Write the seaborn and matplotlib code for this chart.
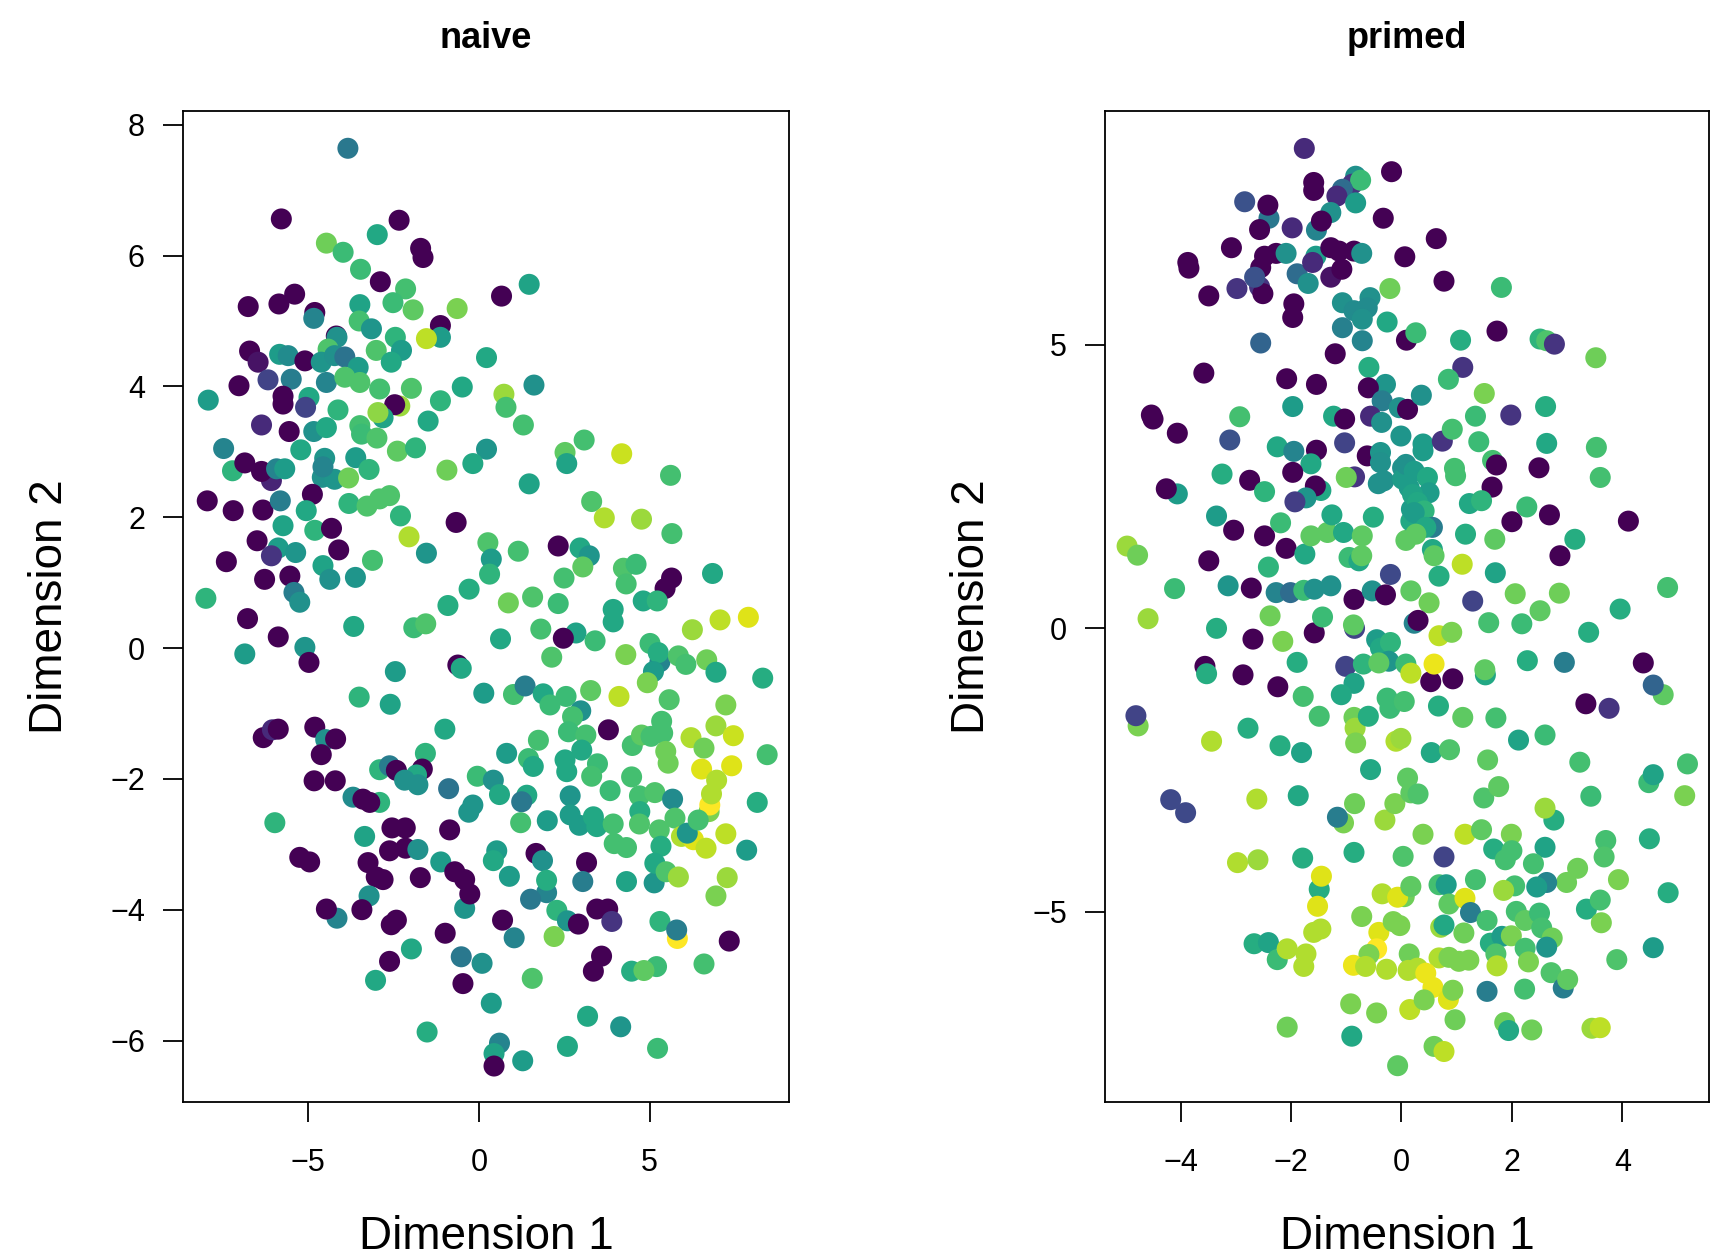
import matplotlib
matplotlib.use("Agg")
import matplotlib.pyplot as plt
import pandas as pd
import seaborn as sns

# naive cells: (dimension 1, dimension 2, colour value 0..1 on viridis)
naive_points = [
    (-3.84, 7.64, 0.40), (-5.79, 6.56, 0), (-2.34, 6.54, 0), (-2.98, 6.32, 0.60), (-4.47, 6.19, 0.78),
    (-3.98, 6.05, 0.68), (-1.71, 6.11, 0), (-1.64, 5.97, 0), (-3.47, 5.79, 0.68), (-2.89, 5.60, 0),
    (-2.15, 5.49, 0.70), (-2.52, 5.28, 0.68), (-1.93, 5.17, 0.75), (-0.64, 5.19, 0.80), (-3.49, 5.25, 0.58),
    (-6.76, 5.22, 0), (-5.86, 5.26, 0), (-5.40, 5.41, 0), (-4.81, 5.13, 0), (-4.84, 5.04, 0.45),
    (-3.51, 5.00, 0.70), (-3.15, 4.88, 0.52), (-1.13, 4.93, 0), (-1.13, 4.75, 0.55), (-1.54, 4.73, 0.90),
    (-4.18, 4.77, 0), (-4.16, 4.75, 0.50), (-2.45, 4.75, 0.65), (-2.27, 4.55, 0.55), (-3.01, 4.55, 0.72),
    (-4.42, 4.57, 0.72), (0.22, 4.44, 0.60), (-6.72, 4.54, 0), (-6.47, 4.37, 0.05), (-5.84, 4.49, 0.55),
    (-5.59, 4.47, 0.48), (-5.10, 4.39, 0), (-4.62, 4.37, 0.52), (-4.23, 4.47, 0.50), (-3.93, 4.45, 0.38),
    (-3.54, 4.29, 0.55), (-2.57, 4.37, 0.60), (-6.18, 4.10, 0.20), (-5.50, 4.11, 0.42), (-4.47, 4.06, 0.45),
    (-3.93, 4.14, 0.72), (-3.49, 4.06, 0.72), (-7.03, 4.01, 0), (-2.91, 3.96, 0.70), (-1.98, 3.97, 0.72),
    (-0.49, 3.99, 0.60), (-7.93, 3.79, 0.55), (-5.74, 3.85, 0), (-5.74, 3.73, 0), (-4.98, 3.83, 0.60),
    (-5.08, 3.68, 0.20), (-2.32, 3.70, 0.85), (-2.47, 3.72, 0), (-2.81, 3.52, 0.58), (-2.96, 3.60, 0.83),
    (-4.13, 3.64, 0.65), (-1.13, 3.78, 0.65), (-1.49, 3.47, 0.60), (-6.37, 3.41, 0.12), (-5.56, 3.31, 0),
    (-4.84, 3.31, 0.50), (-4.47, 3.37, 0.60), (-3.49, 3.40, 0.70), (-3.44, 3.27, 0.68), (-2.99, 3.21, 0.72),
    (-7.48, 3.05, 0.45), (-5.22, 3.03, 0.60), (-2.39, 3.01, 0.75), (-1.86, 3.06, 0.65), (0.22, 3.04, 0.52),
    (-0.18, 2.82, 0.60), (-7.22, 2.71, 0.65), (-6.86, 2.83, 0), (-6.08, 2.56, 0.10), (-6.37, 2.70, 0),
    (-5.93, 2.74, 0.45), (-5.69, 2.74, 0.55), (-4.52, 2.90, 0.52), (-4.59, 2.61, 0.50), (-4.23, 2.58, 0.52),
    (-4.57, 2.77, 0.45), (-3.61, 2.91, 0.55), (-3.22, 2.73, 0.65), (-3.82, 2.60, 0.78), (-0.94, 2.72, 0.78),
    (-7.96, 2.25, 0), (-7.20, 2.10, 0), (-6.33, 2.11, 0), (-5.82, 2.25, 0.42), (-4.88, 2.35, 0),
    (-5.06, 2.10, 0.60), (-3.81, 2.21, 0.65), (-3.28, 2.17, 0.72), (-2.91, 2.28, 0.72), (-2.62, 2.33, 0.72),
    (-2.30, 2.02, 0.65), (-0.67, 1.92, 0), (-2.05, 1.70, 0.88), (-1.54, 1.45, 0.52), (-6.50, 1.64, 0),
    (-5.74, 1.87, 0.58), (-4.81, 1.80, 0.65), (-4.32, 1.83, 0), (-5.88, 1.53, 0.55), (-6.08, 1.41, 0.15),
    (-5.37, 1.46, 0.52), (-4.11, 1.50, 0), (-7.40, 1.32, 0), (-4.57, 1.26, 0.58), (-4.37, 1.05, 0.50),
    (-3.62, 1.08, 0.52), (-3.12, 1.34, 0.70), (-6.28, 1.05, 0), (-5.54, 1.10, 0), (-5.42, 0.85, 0.42),
    (-5.25, 0.70, 0.50), (-8.00, 0.76, 0.65), (-0.29, 0.90, 0.62), (-0.91, 0.65, 0.62), (0.26, 1.61, 0.72),
    (0.36, 1.36, 0.55), (0.31, 1.13, 0.65),
    (0.66, 5.38, 0), (1.47, 5.56, 0.58), (1.61, 4.02, 0.50), (0.73, 3.88, 0.85), (0.79, 3.68, 0.70),
    (1.30, 3.41, 0.70), (3.08, 3.18, 0.70), (2.52, 2.99, 0.75), (2.57, 2.82, 0.58), (4.18, 2.97, 0.92),
    (5.61, 2.64, 0.70), (1.47, 2.51, 0.58), (3.30, 2.24, 0.72), (3.67, 1.99, 0.88), (4.76, 1.97, 0.85),
    (5.65, 1.75, 0.70), (2.32, 1.56, 0), (2.96, 1.53, 0.60), (3.23, 1.41, 0.52), (3.04, 1.24, 0.75),
    (1.15, 1.48, 0.70), (2.49, 1.07, 0.70), (4.23, 1.22, 0.72), (4.60, 1.28, 0.68), (4.31, 0.98, 0.70),
    (5.64, 1.07, 0), (5.45, 0.91, 0), (6.84, 1.14, 0.60), (0.86, 0.69, 0.78), (1.57, 0.78, 0.72),
    (2.32, 0.68, 0.68), (3.93, 0.59, 0.60), (4.81, 0.72, 0.60), (5.22, 0.72, 0.65), (7.06, 0.43, 0.90),
    (7.89, 0.47, 0.95),
    (-6.78, 0.45, 0), (-5.88, 0.17, 0), (-6.86, -0.09, 0.55), (-5.10, 0.01, 0.52), (-4.98, -0.22, 0),
    (-3.67, 0.33, 0.60), (-1.91, 0.31, 0.68), (-1.56, 0.37, 0.72), (-2.45, -0.36, 0.55), (-3.51, -0.75, 0.65),
    (-2.60, -0.86, 0.58), (-0.62, -0.26, 0), (-0.52, -0.31, 0.60), (0.14, -0.69, 0.55), (-6.32, -1.37, 0),
    (-6.05, -1.25, 0.12), (-5.88, -1.24, 0), (-4.81, -1.21, 0), (-4.49, -1.40, 0.50), (-4.20, -1.39, 0),
    (-4.62, -1.63, 0), (-4.83, -2.03, 0), (-4.21, -2.03, 0), (-1.00, -1.24, 0.60), (-1.57, -1.61, 0.65),
    (-2.91, -1.86, 0.65), (-2.62, -1.80, 0.42), (-2.42, -1.87, 0), (-1.66, -1.85, 0), (-1.83, -1.94, 0.60),
    (-1.79, -2.09, 0.50), (-2.18, -2.02, 0.50), (-0.89, -2.15, 0.38), (-0.05, -1.96, 0.68), (-3.69, -2.28, 0.48),
    (-2.91, -2.36, 0.65), (-3.40, -2.31, 0), (-3.20, -2.36, 0), (-0.18, -2.40, 0.52), (-0.30, -2.51, 0.52),
    (-5.98, -2.67, 0.65), (-2.55, -2.75, 0), (-2.16, -2.75, 0), (-3.35, -2.88, 0.58), (-0.86, -2.78, 0),
    (-2.62, -3.10, 0), (-2.15, -3.06, 0), (-1.79, -3.08, 0.50), (-5.25, -3.20, 0), (-4.96, -3.27, 0),
    (-3.25, -3.28, 0), (-1.12, -3.27, 0.55), (-0.42, -3.98, 0.52), (-0.71, -3.42, 0), (-0.42, -3.54, 0),
    (-0.27, -3.76, 0), (-2.81, -3.54, 0), (-3.01, -3.50, 0), (-1.72, -3.51, 0), (-3.22, -3.79, 0.50),
    (-4.16, -4.13, 0.45), (-3.43, -4.00, 0), (-4.47, -3.99, 0), (-2.57, -4.23, 0), (-2.42, -4.16, 0),
    (-0.99, -4.36, 0), (-1.98, -4.60, 0.60), (-2.62, -4.79, 0), (-0.52, -4.72, 0.40), (0.09, -4.82, 0.50),
    (-0.47, -5.13, 0), (-3.03, -5.08, 0.60), (-1.52, -5.87, 0.62), (0.36, -5.43, 0.55),
    (3.93, 0.40, 0.60), (6.25, 0.28, 0.85), (0.63, 0.14, 0.60), (1.81, 0.29, 0.70), (2.84, 0.23, 0.58),
    (2.47, 0.15, 0), (3.40, 0.11, 0.68), (2.13, -0.14, 0.72), (4.30, -0.10, 0.80), (5.01, 0.07, 0.68),
    (5.30, -0.21, 0.45), (5.25, -0.07, 0.62), (5.11, -0.36, 0.55), (4.93, -0.53, 0.80), (5.84, -0.12, 0.72),
    (6.06, -0.25, 0.70), (6.67, -0.18, 0.78), (6.94, -0.37, 0.60), (8.31, -0.46, 0.62), (1.01, -0.71, 0.70),
    (1.35, -0.58, 0.42), (1.88, -0.70, 0.60), (2.08, -0.87, 0.68), (2.55, -0.74, 0.68), (2.98, -0.96, 0.50),
    (2.74, -1.05, 0.70), (3.27, -0.65, 0.75), (4.10, -0.74, 0.90), (5.57, -0.79, 0.72), (7.23, -0.87, 0.80),
    (2.62, -1.28, 0.68), (3.13, -1.33, 0.70), (3.79, -1.25, 0), (3.01, -1.56, 0.60), (1.74, -1.41, 0.70),
    (0.81, -1.61, 0.55), (1.45, -1.69, 0.68), (1.59, -1.81, 0.60), (2.52, -1.71, 0.60), (2.57, -1.89, 0.60),
    (3.47, -1.77, 0.68), (3.30, -1.96, 0.70), (4.49, -1.49, 0.70), (4.76, -1.33, 0.75), (5.04, -1.35, 0.70),
    (5.35, -1.12, 0.70), (5.38, -1.30, 0.70), (5.47, -1.58, 0.78), (5.54, -1.76, 0.78), (6.21, -1.37, 0.88),
    (6.59, -1.53, 0.78), (6.94, -1.19, 0.85), (7.45, -1.34, 0.92), (8.44, -1.63, 0.70), (6.52, -1.85, 0.95),
    (7.40, -1.80, 0.95), (6.96, -2.02, 0.88), (6.74, -2.50, 0.80), (6.76, -2.40, 1.0), (6.81, -2.23, 0.88),
    (8.15, -2.36, 0.62), (0.42, -2.02, 0.50), (0.60, -2.24, 0.60), (1.40, -2.25, 0.60), (1.25, -2.35, 0.40),
    (1.22, -2.67, 0.70), (2.00, -2.64, 0.55), (2.67, -2.26, 0.52), (2.67, -2.55, 0.55), (2.94, -2.71, 0.55),
    (3.35, -2.58, 0.60), (3.45, -2.73, 0.60), (3.84, -2.18, 0.68), (4.47, -1.97, 0.70), (4.70, -2.26, 0.70),
    (4.71, -2.50, 0.62), (4.70, -2.69, 0.72), (3.93, -2.69, 0.70), (5.15, -2.21, 0.72), (5.67, -2.31, 0.48),
    (5.74, -2.60, 0.72), (5.28, -2.78, 0.72), (5.33, -3.03, 0.62), (5.93, -2.88, 0.88), (6.28, -2.93, 0.95),
    (6.10, -2.83, 0.52), (6.42, -2.63, 0.70), (6.65, -3.06, 0.90), (7.23, -2.84, 0.90), (7.84, -3.09, 0.55),
    (3.96, -2.99, 0.70), (4.32, -3.05, 0.70), (0.52, -3.10, 0.55), (0.42, -3.25, 0.60), (0.89, -3.49, 0.55),
    (1.67, -3.14, 0), (1.86, -3.25, 0.50), (1.98, -3.74, 0.45), (1.98, -3.55, 0.62), (1.51, -3.84, 0.40),
    (3.15, -3.28, 0), (3.04, -3.57, 0.42), (4.32, -3.57, 0.58), (5.13, -3.59, 0.52), (5.15, -3.29, 0.60),
    (5.48, -3.42, 0.72), (5.84, -3.50, 0.85), (7.27, -3.51, 0.85), (6.94, -3.79, 0.80), (0.69, -4.16, 0),
    (1.03, -4.43, 0.45), (2.28, -4.01, 0.65), (2.59, -4.17, 0.52), (2.91, -4.22, 0), (3.45, -3.99, 0),
    (3.77, -3.99, 0), (3.89, -4.18, 0.15), (2.20, -4.41, 0.80), (5.30, -4.18, 0.65), (5.81, -4.44, 1.0),
    (5.79, -4.31, 0.42), (7.33, -4.48, 0), (3.59, -4.71, 0), (3.35, -4.94, 0), (4.47, -4.94, 0.62),
    (5.20, -4.87, 0.68), (4.83, -4.93, 0.75), (6.59, -4.83, 0.70), (1.56, -5.05, 0.72), (3.18, -5.63, 0.60),
    (4.15, -5.79, 0.52), (2.59, -6.09, 0.60), (5.23, -6.12, 0.68), (0.60, -6.04, 0.45), (0.44, -6.20, 0.58),
    (0.44, -6.39, 0), (1.28, -6.31, 0.55),
]

primed_points = [
    (-1.76, 8.46, 0.12), (-0.18, 8.05, 0), (-1.59, 7.86, 0), (-1.59, 7.72, 0), (-0.83, 7.97, 0.50),
    (-0.89, 7.83, 0.15), (-0.74, 7.90, 0.68), (-1.07, 7.74, 0.35), (-1.17, 7.62, 0.12), (-0.83, 7.50, 0.55),
    (-2.84, 7.52, 0.25), (-2.40, 7.23, 0.40), (-2.42, 7.46, 0), (-2.57, 7.03, 0), (-1.98, 7.06, 0.12),
    (-1.28, 7.33, 0.50), (-1.54, 7.02, 0.45), (-1.45, 7.18, 0), (-0.33, 7.23, 0), (-3.08, 6.71, 0),
    (-3.87, 6.45, 0), (-3.85, 6.35, 0), (-2.48, 6.56, 0), (-2.27, 6.61, 0), (-2.09, 6.61, 0.50),
    (-2.55, 6.36, 0), (-2.57, 6.02, 0.15), (-2.51, 5.90, 0), (-2.66, 6.19, 0.25), (-2.98, 5.99, 0.15),
    (-3.49, 5.86, 0), (-1.89, 6.25, 0.35), (-1.55, 6.56, 0.55), (-1.61, 6.45, 0.12), (-1.69, 6.08, 0.50),
    (-1.28, 6.71, 0), (-1.13, 6.65, 0), (-1.28, 6.19, 0.05), (-1.08, 6.33, 0), (-0.86, 6.65, 0),
    (-0.72, 6.61, 0.50), (0.06, 6.55, 0), (-1.95, 5.72, 0), (-1.97, 5.48, 0), (-1.07, 5.74, 0.50),
    (-0.86, 5.60, 0.48), (-0.57, 5.83, 0.50), (-0.62, 5.65, 0.48), (-0.71, 5.45, 0.50), (-0.21, 5.99, 0.78),
    (-1.07, 5.30, 0.43), (-0.71, 5.07, 0.45), (-0.26, 5.40, 0.60), (0.09, 5.08, 0), (-2.55, 5.03, 0.32),
    (-1.20, 4.84, 0), (-0.59, 4.60, 0.62), (-3.58, 4.50, 0), (-2.08, 4.40, 0), (-1.54, 4.30, 0),
    (-0.29, 4.30, 0.52), (-0.60, 4.24, 0), (-0.35, 4.01, 0.42), (-0.04, 3.89, 0.50), (0.11, 3.86, 0),
    (-1.97, 3.91, 0.55), (-4.53, 3.76, 0), (-4.50, 3.69, 0), (-2.93, 3.73, 0.70), (-4.06, 3.44, 0),
    (-1.23, 3.74, 0.60), (-1.03, 3.69, 0), (-0.56, 3.74, 0.12), (-0.36, 3.63, 0.50), (-0.01, 3.39, 0.52),
    (-3.11, 3.32, 0.25), (-2.25, 3.20, 0.60), (-1.95, 3.12, 0.45), (-1.54, 3.14, 0), (-1.64, 2.90, 0.60),
    (-1.03, 3.27, 0.20), (-0.62, 3.04, 0), (-0.38, 3.10, 0.52), (-0.38, 2.92, 0.50), (0.02, 2.83, 0.50),
    (0.12, 2.75, 0.58), (-3.25, 2.72, 0.62), (-2.75, 2.61, 0), (-2.48, 2.41, 0.65), (-1.97, 2.75, 0),
    (-1.46, 2.43, 0.60), (-1.56, 2.51, 0), (-1.73, 2.30, 0.52), (-1.93, 2.23, 0.18), (-0.85, 2.67, 0.15),
    (-1.00, 2.66, 0.78), (-0.42, 2.55, 0.50), (-0.32, 2.60, 0.50), (0.02, 2.63, 0.55), (0.14, 2.48, 0.55),
    (-4.06, 2.37, 0.55), (-4.26, 2.46, 0), (-3.35, 1.98, 0.55), (-3.04, 1.73, 0), (-2.48, 1.63, 0),
    (-2.19, 1.86, 0.68), (-2.09, 1.41, 0), (-1.75, 1.31, 0.60), (-1.64, 1.63, 0.75), (-1.34, 1.69, 0.75),
    (-1.26, 2.00, 0.60), (-1.05, 1.69, 0.60), (-0.95, 1.25, 0.68), (-0.77, 1.19, 0.60), (-0.71, 1.63, 0.75),
    (-0.72, 1.28, 0.75), (-0.51, 1.96, 0.62), (0.08, 1.55, 0.75), (0.17, 1.89, 0.60), (0.18, 2.10, 0.55),
    (-4.97, 1.45, 0.85), (-4.78, 1.29, 0.78), (-3.49, 1.19, 0), (-2.41, 1.08, 0.65), (-0.20, 0.95, 0.22),
    (-4.11, 0.70, 0.68), (-3.14, 0.75, 0.52), (-2.72, 0.71, 0), (-2.27, 0.63, 0.45), (-2.01, 0.63, 0.35),
    (-1.77, 0.67, 0.68), (-1.58, 0.69, 0.50), (-1.28, 0.75, 0.50), (-0.86, 0.51, 0), (-0.53, 0.66, 0.50),
    (-0.29, 0.59, 0), (0.17, 0.66, 0.75),
    (0.63, 6.87, 0), (0.77, 6.12, 0), (1.81, 6.01, 0.68), (0.26, 5.21, 0.68), (1.07, 5.08, 0.62),
    (1.73, 5.24, 0), (2.51, 5.10, 0.65), (2.63, 5.07, 0.72), (2.77, 5.01, 0.15), (3.52, 4.77, 0.78),
    (1.11, 4.60, 0.15), (0.85, 4.39, 0.68), (1.50, 4.14, 0.80), (0.36, 4.11, 0.50), (1.34, 3.74, 0.68),
    (1.98, 3.76, 0.15), (2.61, 3.91, 0.62), (0.39, 3.25, 0.55), (0.39, 3.13, 0.55), (0.74, 3.30, 0.15),
    (0.92, 3.51, 0.70), (1.40, 3.29, 0.68), (2.63, 3.26, 0.60), (3.53, 3.19, 0.70), (1.65, 2.96, 0.70),
    (1.72, 2.88, 0), (2.49, 2.83, 0), (3.60, 2.66, 0.70), (0.96, 2.82, 0.70), (0.98, 2.69, 0.70),
    (1.64, 2.49, 0), (0.08, 2.89, 0.50), (0.23, 2.77, 0.55), (0.47, 2.66, 0.60), (0.50, 2.39, 0.55),
    (0.20, 2.36, 0.58), (0.29, 2.22, 0.60), (0.41, 2.07, 0.65), (0.23, 2.04, 0.55), (1.23, 2.20, 0.60),
    (1.45, 2.25, 0.65), (2.27, 2.14, 0.68), (2.00, 1.88, 0), (2.68, 2.00, 0), (4.11, 1.89, 0),
    (1.16, 1.66, 0.62), (1.69, 1.57, 0.75), (3.14, 1.57, 0.62), (0.56, 1.78, 0.42), (0.44, 1.78, 0.60),
    (0.26, 1.66, 0.75), (0.56, 1.39, 0.60), (0.59, 1.28, 0.75), (2.87, 1.28, 0), (1.10, 1.13, 0.90),
    (0.68, 0.92, 0.62), (1.70, 0.98, 0.58), (0.50, 0.45, 0.78), (1.29, 0.48, 0.20), (2.06, 0.61, 0.78),
    (2.86, 0.62, 0.78), (2.51, 0.31, 0.75), (3.96, 0.34, 0.62), (4.82, 0.72, 0.70),
    (-4.59, 0.17, 0.85), (-3.35, 0.00, 0.62), (-2.69, -0.19, 0), (-2.38, 0.22, 0.78), (-2.15, -0.23, 0.80),
    (-1.58, -0.08, 0), (-1.43, 0.20, 0.68), (-0.85, 0.00, 0.20), (-0.87, 0.06, 0.75), (-3.56, -0.67, 0),
    (-3.53, -0.80, 0.62), (-2.87, -0.82, 0), (-2.24, -1.03, 0), (-1.89, -0.60, 0.62), (-1.78, -1.20, 0.70),
    (-1.49, -1.55, 0.70), (-1.01, -0.67, 0.20), (-0.86, -0.97, 0.58), (-1.09, -1.17, 0.60), (-0.69, -0.63, 0.65),
    (-0.45, -0.20, 0.55), (-0.38, -0.35, 0.60), (-0.20, -0.25, 0.65), (-0.23, -0.58, 0.52), (-0.41, -0.61, 0.75),
    (0.08, -0.63, 0.68), (0.17, -0.79, 0.90), (-4.77, -1.72, 0.80), (-4.81, -1.54, 0.20), (-3.44, -1.99, 0.88),
    (-2.78, -1.76, 0.62), (-2.20, -2.07, 0.62), (-1.81, -2.19, 0.58), (-0.86, -1.57, 0.78), (-0.84, -1.76, 0.85),
    (-0.83, -2.02, 0.80), (-0.60, -1.55, 0.62), (-0.26, -1.23, 0.68), (-0.21, -1.41, 0.68), (0.05, -1.29, 0.70),
    (-0.10, -1.99, 0.88), (-0.01, -1.94, 0.85), (-0.56, -2.49, 0.60), (0.11, -2.64, 0.75), (-4.18, -3.02, 0.22),
    (-3.91, -3.25, 0.22), (-2.62, -3.01, 0.88), (-1.87, -2.95, 0.60), (-0.85, -3.09, 0.78), (-1.05, -3.43, 0.80),
    (-1.16, -3.33, 0.42), (-0.30, -3.38, 0.85), (-0.12, -3.09, 0.80), (0.17, -2.90, 0.75), (-2.97, -4.13, 0.88),
    (-2.60, -4.08, 0.85), (-1.79, -4.05, 0.62), (-0.86, -3.95, 0.62), (0.03, -4.02, 0.72), (-1.49, -4.60, 0.62),
    (-1.45, -4.37, 0.95), (-1.52, -4.90, 0.95), (-1.59, -5.36, 0.88), (-1.46, -5.30, 0.88), (-0.72, -5.08, 0.80),
    (-0.35, -4.68, 0.88), (0.05, -4.73, 0.78), (-0.07, -4.74, 0.95), (-0.41, -5.36, 0.95), (-0.15, -5.17, 0.80),
    (-0.03, -5.24, 0.80), (0.17, -4.55, 0.75), (-2.67, -5.56, 0.62), (-2.41, -5.54, 0.58), (-2.25, -5.84, 0.68),
    (-2.07, -5.65, 0.88), (-1.73, -5.74, 0.88), (-1.77, -5.96, 0.88), (-0.45, -5.65, 1.0), (-0.59, -5.75, 0.80),
    (-0.87, -5.94, 0.97), (-0.65, -5.96, 0.88), (-0.27, -6.01, 0.88), (0.14, -5.74, 0.78), (0.12, -6.03, 0.88),
    (-0.92, -6.62, 0.80), (-0.45, -6.78, 0.80), (0.15, -6.72, 0.90), (-2.07, -7.03, 0.78), (-0.90, -7.19, 0.60),
    (-0.07, -7.71, 0.75),
    (0.23, 0.09, 0.45), (0.30, 0.14, 0), (0.68, -0.13, 0.90), (0.91, -0.07, 0.80), (1.58, 0.10, 0.70),
    (2.18, 0.08, 0.68), (3.39, -0.07, 0.62), (0.53, -0.94, 0), (0.93, -0.89, 0), (0.59, -0.63, 0.97),
    (1.52, -0.82, 0.60), (1.51, -0.73, 0.75), (2.28, -0.57, 0.62), (2.95, -0.60, 0.42), (4.38, -0.61, 0),
    (4.74, -1.17, 0.75), (4.56, -1.00, 0.32), (3.34, -1.33, 0), (3.76, -1.41, 0.15), (0.67, -1.37, 0.62),
    (1.11, -1.57, 0.75), (1.71, -1.58, 0.70), (2.12, -1.97, 0.58), (2.60, -1.88, 0.68), (0.54, -2.19, 0.60),
    (0.87, -2.14, 0.72), (1.56, -2.32, 0.75), (3.23, -2.36, 0.70), (0.30, -2.92, 0.72), (1.49, -2.99, 0.72),
    (1.76, -2.79, 0.75), (3.43, -2.96, 0.68), (2.76, -3.38, 0.62), (2.60, -3.17, 0.85), (4.48, -2.72, 0.68),
    (4.56, -2.58, 0.58), (5.18, -2.39, 0.70), (5.13, -2.95, 0.80), (0.39, -3.63, 0.80), (1.15, -3.63, 0.90),
    (1.45, -3.55, 0.75), (1.99, -3.63, 0.80), (1.67, -3.89, 0.62), (2.00, -3.92, 0.70), (1.88, -4.08, 0.70),
    (2.60, -3.86, 0.58), (2.39, -4.15, 0.70), (3.19, -4.23, 0.78), (2.99, -4.48, 0.78), (3.70, -3.74, 0.70),
    (3.67, -4.03, 0.72), (4.49, -3.71, 0.62), (3.93, -4.43, 0.80), (4.83, -4.66, 0.62), (0.77, -4.03, 0.20),
    (0.68, -4.52, 0.70), (0.81, -4.52, 0.55), (1.34, -4.43, 0.70), (2.05, -4.54, 0.70), (1.85, -4.62, 0.85),
    (2.63, -4.48, 0.45), (2.45, -4.56, 0.55), (0.86, -4.86, 0.75), (1.15, -4.76, 0.95), (1.25, -5.01, 0.42),
    (0.71, -5.27, 0.85), (0.77, -5.23, 0.60), (1.13, -5.37, 0.78), (1.55, -5.15, 0.70), (2.08, -4.99, 0.70),
    (2.24, -5.15, 0.75), (2.50, -5.02, 0.68), (2.54, -5.28, 0.70), (2.73, -5.46, 0.78), (2.63, -5.62, 0.52),
    (1.61, -5.55, 0.62), (1.82, -5.43, 0.55), (1.99, -5.42, 0.80), (2.24, -5.64, 0.70), (1.71, -5.74, 0.72),
    (1.73, -5.95, 0.88), (2.30, -5.88, 0.80), (3.35, -4.95, 0.62), (3.60, -4.79, 0.70), (3.62, -5.19, 0.80),
    (0.29, -5.99, 0.88), (0.68, -5.81, 0.88), (0.86, -5.80, 0.80), (1.22, -5.85, 0.80), (1.04, -5.87, 0.80),
    (0.44, -6.08, 0.97), (0.57, -6.33, 0.97), (0.85, -6.54, 0.95), (0.93, -6.38, 0.80), (0.41, -6.55, 0.80),
    (0.97, -6.90, 0.78), (1.55, -6.40, 0.42), (2.23, -6.36, 0.70), (2.71, -6.07, 0.72), (2.93, -6.34, 0.42),
    (3.01, -6.19, 0.75), (3.90, -5.84, 0.72), (4.56, -5.63, 0.55), (1.87, -6.95, 0.78), (1.94, -7.09, 0.60),
    (2.36, -7.08, 0.78), (3.45, -7.05, 0.85), (3.60, -7.04, 0.90), (0.59, -7.37, 0.78), (0.77, -7.46, 0.90),
]

naive_xlim, naive_ylim = (-8.67, 9.08), (-6.94, 8.21)
primed_xlim, primed_ylim = (-5.37, 5.57), (-8.35, 9.12)
naive_xticks, naive_yticks = [-5, 0, 5], [-6, -4, -2, 0, 2, 4, 6, 8]
primed_xticks, primed_yticks = [-4, -2, 0, 2, 4], [-5, 0, 5]

sns.set_theme(style="ticks")
plt.rcParams["font.family"] = ["Liberation Sans", "DejaVu Sans"]
plt.rcParams.update({
    "text.color": "black",
    "axes.labelcolor": "black",
    "xtick.color": "black",
    "ytick.color": "black",
    "axes.edgecolor": "black",
})

fig = plt.figure(figsize=(17.11, 12.58), dpi=100)
W, H = 1711, 1258
ax_naive = fig.add_axes([183 / W, 1 - 1102 / H, 606 / W, 991 / H])
ax_primed = fig.add_axes([1105 / W, 1 - 1102 / H, 604 / W, 991 / H])

setup = [
    (ax_naive, "naive", naive_points, naive_xlim, naive_ylim, naive_xticks, naive_yticks),
    (ax_primed, "primed", primed_points, primed_xlim, primed_ylim, primed_xticks, primed_yticks),
]

for ax, name, pts, xlim, ylim, xt, yt in setup:
    df = pd.DataFrame(pts, columns=["dim1", "dim2", "value"])
    sns.scatterplot(data=df, x="dim1", y="dim2", hue="value", palette="viridis",
                    hue_norm=(0, 1), s=229, linewidth=0, alpha=1, legend=False, ax=ax)
    ax.set_xlim(*xlim)
    ax.set_ylim(*ylim)
    ax.set_xticks(xt)
    ax.set_yticks(yt)
    for sp in ax.spines.values():
        sp.set_visible(True)
        sp.set_linewidth(1.3)
        sp.set_color("black")
    ax.tick_params(axis="both", length=14.4, width=1.3, labelsize=22,
                   color="black", labelcolor="black")
    ax.tick_params(axis="x", pad=19)
    ax.tick_params(axis="y", pad=13)
    ax.set_title(name, fontsize=26, fontweight="bold", pad=45, color="black")
    ax.set_xlabel("Dimension 1", fontsize=33, color="black")
    ax.set_ylabel("Dimension 2", fontsize=33, color="black")
    ax.xaxis.set_label_coords(0.5, -0.114)
    ax.yaxis.set_label_coords(-0.183, 0.5)
    ax.grid(False)

fig.savefig("out.png", dpi=100, facecolor="white")
